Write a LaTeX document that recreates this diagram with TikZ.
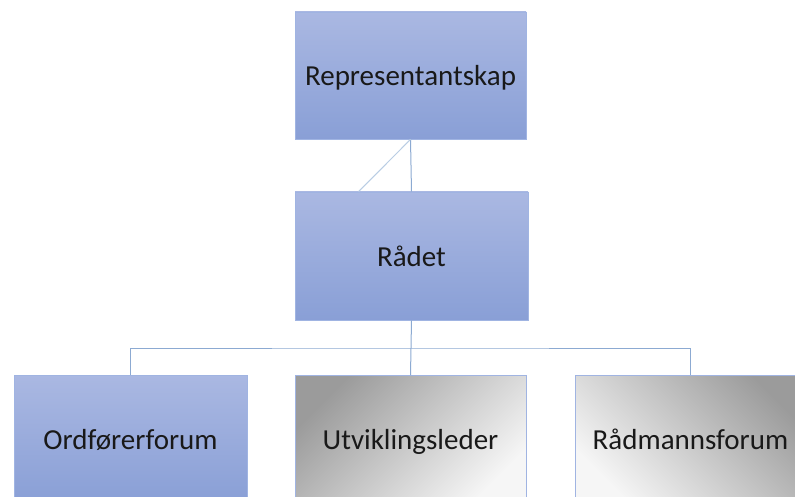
\documentclass[tikz,border=0pt]{standalone}
\usepackage{fontspec}
\setmainfont{Carlito}
\definecolor{boxtop}{RGB}{170,184,226}
\definecolor{boxbot}{RGB}{137,159,214}
\definecolor{boxline}{RGB}{160,180,226}
\definecolor{conn}{RGB}{140,170,210}
\definecolor{connlight}{RGB}{185,205,228}
\definecolor{graydark}{RGB}{155,155,155}
\definecolor{graylight}{RGB}{246,246,246}
\begin{document}
\begin{tikzpicture}[x=1pt,y=-1pt,
  orgbox/.style={rectangle, draw=boxline, line width=0.8pt, minimum width=231pt, minimum height=127pt,
    inner sep=0pt, font=\fontsize{29}{34}\selectfont, text=black!90, text height=26pt, text depth=6pt},
  bluebox/.style={orgbox, top color=boxtop, bottom color=boxbot},
  graybox/.style={orgbox, top color=graydark, bottom color=graylight},
  connector/.style={draw=conn, line width=1pt}]
\useasboundingbox (0,0) rectangle (795,497);
\clip (0,0) rectangle (795,497);
\fill[white] (0,0) rectangle (795,497);
\node[bluebox] (rep) at (410.5,75.5) {Representantskap};
\node[bluebox, minimum width=233pt, minimum height=128pt] (radet) at (411.5,256) {Rådet};
\node[bluebox, minimum width=233pt, minimum height=128pt] (ord) at (130.5,439) {Ordførerforum};
\node[graybox, shading angle=45] (utv) at (410.5,439) {Utviklingsleder};
\node[graybox, shading angle=-45] (rad) at (690.5,439) {Rådmannsforum};
\coordinate (bus) at (410.5,348);
\coordinate (diag) at ([xshift=64pt]radet.north west);
\draw[connector] (rep.south) -- (radet.north);
\draw[draw=connlight, line width=1pt] (rep.south) -- (diag);
\draw[connector] (radet.south) -- (utv.north);
\draw[connector] (ord.north) |- (bus) -| (rad.north);
\end{tikzpicture}
\end{document}
